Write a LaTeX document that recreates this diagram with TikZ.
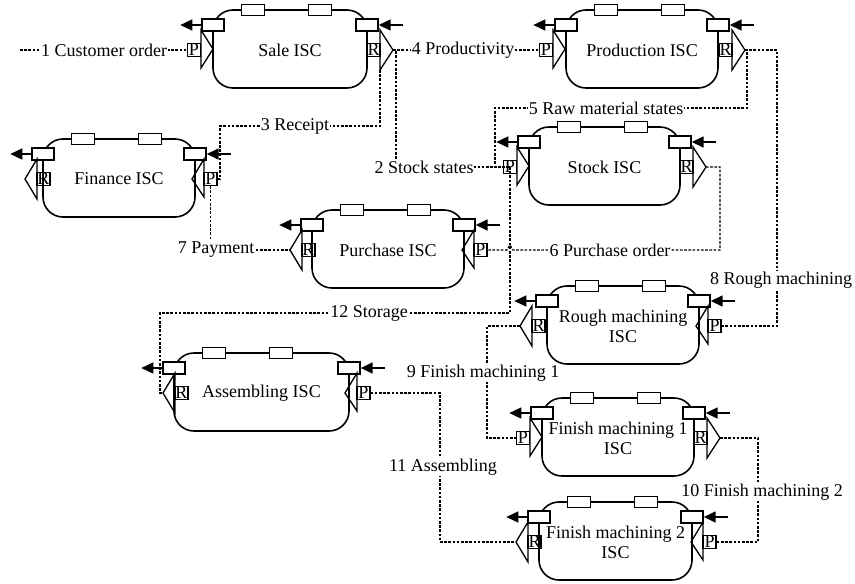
\documentclass[tikz,border=0pt]{standalone}
\usepackage{fontspec}
\setmainfont{Liberation Serif}
\usetikzlibrary{arrows.meta,calc}
\tikzset{
  iscbody/.style={line width=1.6pt, rounded corners=20pt},
  toprect/.style={draw, fill=white, line width=1.4pt, minimum width=23pt, minimum height=11pt, inner sep=0pt},
  cornerrect/.style={draw, fill=white, line width=1.4pt, minimum width=22pt, minimum height=12pt, inner sep=0pt},
  cornerarrow/.style={line width=1.5pt, -{Triangle[length=12pt,width=11pt]}},
  port/.style={line width=1.3pt, line join=miter},
  portsq/.style={draw, line width=1.3pt, minimum size=13pt, inner sep=0pt},
  portletter/.style={font=\fontsize{18}{18}\selectfont, inner sep=0pt},
  isctext/.style={font=\fontsize{18}{20}\selectfont, align=center, inner sep=0pt},
  conn/.style={line width=1.3pt, dash pattern=on 2.6pt off 1.6pt},
  lbl/.style={font=\fontsize{18}{20}\selectfont, fill=white, inner sep=1pt},
}
% frame of an ISC: name, L, T, R, text
\newcommand\iscframe[5]{%
  \draw[iscbody] (#2,#3) rectangle (#4,#3+78);
  \node[toprect] (#1-t1) at (#2+40,#3) {};
  \node[toprect] (#1-t2) at (#2+107,#3) {};
  \node[cornerrect] (#1-cl) at (#2,#3+15) {};
  \node[cornerrect] (#1-cr) at (#4,#3+15) {};
  \draw[cornerarrow] (#1-cl.west) -- ++(-21,0);
  \draw[cornerarrow] ([xshift=24pt]#1-cr.east) -- (#1-cr.east);
  \node[isctext] (#1-txt) at ({(#2+#4)/2},#3+40) {#5};
}
% ISC with right-pointing ports: name, L, T, R, text, left edge x, right edge x
\newcommand\iscR[7]{%
  \iscframe{#1}{#2}{#3}{#4}{#5}
  \draw[port] (#6,#3+20) -- (#6+12,#3+39) -- (#6,#3+58) -- cycle;
  \node[portsq] (#1-P) at (#6-7,#3+40) {};
  \node[portletter] at (#1-P) {P};
  \draw[port] (#7,#3+20) -- (#7+13,#3+40) -- (#7,#3+60) -- cycle;
  \node[portsq] (#1-R) at (#7-6.5,#3+40) {};
  \node[portletter] at (#1-R) {R};
  \coordinate (#1-Rtip) at (#7+13,#3+40);
  \coordinate (#1-Rbot) at (#7,#3+60);
}
% ISC with left-pointing ports
\newcommand\iscL[7]{%
  \iscframe{#1}{#2}{#3}{#4}{#5}
  \draw[port] (#6,#3+20) -- (#6-12,#3+40) -- (#6,#3+60) -- cycle;
  \node[portsq] (#1-R) at (#6+6.5,#3+40) {};
  \node[portletter] at (#1-R) {R};
  \coordinate (#1-Rtip) at (#6-12,#3+40);
  \draw[port] (#7,#3+20) -- (#7-12,#3+40) -- (#7,#3+58) -- cycle;
  \node[portsq] (#1-P) at (#7+6.5,#3+40) {};
  \node[portletter] at (#1-P) {P};
}
\begin{document}
\begin{tikzpicture}[x=1pt,y=-1pt]
\useasboundingbox (0,0) rectangle (855,584);

% ISCs
\iscR{sale}{213}{10}{367}{Sale ISC}{201}{380}
\iscR{prod}{566}{10}{718}{Production ISC}{553}{732}
\iscR{stock}{529}{127}{680}{Stock ISC}{517}{693}
\iscR{fmone}{542}{398}{694}{Finish machining 1\\ISC}{530}{707}
\iscL{fin}{43}{139}{195}{Finance ISC}{37}{204}
\iscL{pur}{312}{210}{464}{Purchase ISC}{302}{474}
\iscL{ass}{174}{353}{349}{Assembling ISC}{175}{357}
\iscL{rough}{547}{286}{699}{Rough machining\\ISC}{532}{708}
\iscL{fmtwo}{539}{502}{692}{Finish machining 2\\ISC}{528}{703}

% waypoints
\coordinate (cust) at (20,50);
\coordinate (c2) at (396,167);
\coordinate (c3) at (220,126);
\coordinate (c5a) at (747,108);
\coordinate (c5b) at (495,108);
\coordinate (c6) at (720,250);
\coordinate (hopa) at (513,250);
\coordinate (hopb) at (510,245);
\coordinate (hopc) at (507,250);
\coordinate (c8) at (777,280);
\coordinate (c9) at (487,373);
\coordinate (c10) at (758,492);
\coordinate (c11) at (440,467);
\coordinate (c12) at (160,313);

% connectors
\draw[conn] (cust) -- (sale-P.west);
\draw[conn] (sale-Rtip) -| (c2) -- (stock-P.center);
\draw[conn] (sale-Rbot) |- (c3) |- (fin-P.east);
\draw[conn] (sale-Rtip) -- (prod-P.west);
\draw[conn] (prod-Rtip) -| (c5a) -- (c5b) |- (stock-P.center);
\draw[conn] (stock-Rtip) -| (c6) -- (hopa) -- (hopb) -- (hopc) -- (pur-P.east);
\draw[conn] (fin-P.south) |- (pur-Rtip);
\draw[conn] (prod-Rtip) -| (c8) |- (rough-P.east);
\draw[conn] (rough-Rtip) -| (c9) |- (fmone-P.west);
\draw[conn] (fmone-Rtip) -| (c10) |- (fmtwo-P.east);
\draw[conn] (ass-P.east) -| (c11) |- (fmtwo-Rtip);
\draw[conn] (stock-P.center) |- (c12) |- (ass-Rtip);

% labels
\node[lbl] (l1) at (104,50) {1 Customer order};
\node[lbl] (l2) at (424,167) {2 Stock states};
\node[lbl] (l3) at (295,126) {3 Receipt};
\node[lbl] (l4) at (463,50) {4 Productivity};
\node[lbl] (l5) at (606,108) {5 Raw material states};
\node[lbl] (l6) at (610,250) {6 Purchase order};
\node[lbl] (l7) at (216,250) {7 Payment};
\node[lbl] (l8) at (781,280) {8 Rough machining};
\node[lbl] (l9) at (483,373) {9 Finish machining 1};
\node[lbl] (l10) at (762,492) {10 Finish machining 2};
\node[lbl] (l11) at (443,467) {11 Assembling};
\node[lbl] (l12) at (369,313) {12 Storage};
\end{tikzpicture}
\end{document}
